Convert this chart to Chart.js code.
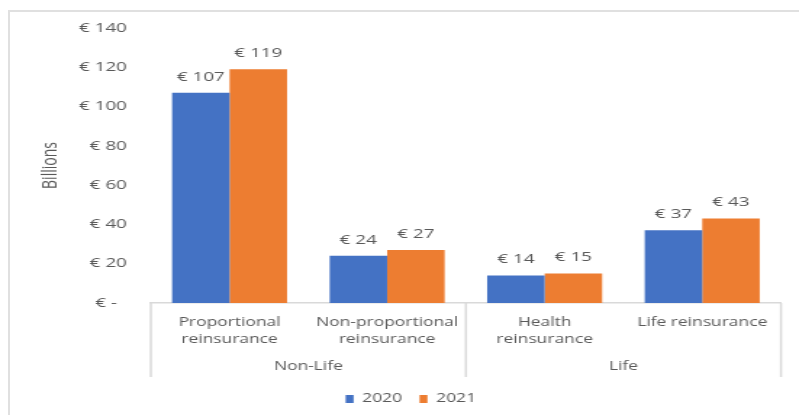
<!DOCTYPE html>
<html>
<head>
<meta charset="utf-8">
<script src="https://cdn.jsdelivr.net/npm/chart.js@4/dist/chart.umd.min.js"></script>
<style>
  html, body { margin: 0; padding: 0; background: #ffffff; overflow: hidden; width: 799px; height: 415px; }
  #frame { position: absolute; left: 8px; top: 10px; width: 1000px; height: 1000px;
           border-left: 2px solid #e0e0e0; border-top: 2px solid #e0e0e0; box-sizing: border-box; }
  #c { position: absolute; left: 0; top: 0; transform-origin: 0 0; }
</style>
</head>
<body>
<div id="frame"></div>
<canvas id="c"></canvas>
<script>
// ---- data ----
const categories = [['Proportional', 'reinsurance'], ['Non-proportional', 'reinsurance'], ['Health', 'reinsurance'], ['Life reinsurance']];
const groups = ['Non-Life', 'Life'];
const seriesNames = ['2020', '2021'];
const values2020 = [107, 24, 14, 37];
const values2021 = [119, 27, 15, 43];
const yTickLabels = ['€ -  ', '€ 20', '€ 40', '€ 60', '€ 80', '€ 100', '€ 120', '€ 140'];
const axisTitle = 'Billions';

// ---- layout (reference image is stretched horizontally) ----
const S = 1.45;
const W = Math.round(799 / S);
const H = 415;
const cv = document.getElementById('c');
cv.width = W; cv.height = H;
cv.style.width = W + 'px'; cv.style.height = H + 'px';
cv.style.transform = 'scaleX(' + S + ')';

const TEXT = '#595959';
const LINE = '#d9d9d9';
const FONT = '"Open Sans", "DejaVu Sans", sans-serif';

const dataLabels = {
  id: 'dataLabels',
  afterDatasetsDraw(chart) {
    const ctx = chart.ctx;
    ctx.save();
    ctx.font = '13px ' + FONT;
    ctx.fillStyle = TEXT;
    ctx.textAlign = 'center';
    ctx.textBaseline = 'middle';
    chart.data.datasets.forEach((ds, i) => {
      const meta = chart.getDatasetMeta(i);
      meta.data.forEach((bar, j) => {
        ctx.fillText('€ ' + ds.data[j], bar.x, bar.y - 16);
      });
    });
    ctx.restore();
  }
};

const separators = {
  id: 'separators',
  afterDraw(chart) {
    const xs = chart.scales.x, x2 = chart.scales.x2;
    const ctx = chart.ctx;
    const mid = (xs.getPixelForValue(1) + xs.getPixelForValue(2)) / 2;
    ctx.save();
    ctx.strokeStyle = LINE;
    ctx.lineWidth = 1.5;
    [xs.left, mid, xs.right].forEach(px => {
      ctx.beginPath();
      ctx.moveTo(px, xs.top);
      ctx.lineTo(px, x2.bottom - 4);
      ctx.stroke();
    });
    ctx.restore();
  }
};

new Chart(cv, {
  type: 'bar',
  data: {
    labels: categories,
    datasets: [
      { label: seriesNames[0], data: values2020, backgroundColor: '#4472C4', categoryPercentage: 0.73, barPercentage: 1.0 },
      { label: seriesNames[1], data: values2021, backgroundColor: '#ED7D31', categoryPercentage: 0.73, barPercentage: 1.0 }
    ]
  },
  options: {
    responsive: false,
    animation: false,
    layout: { padding: { left: 28, right: 12.4, top: 28, bottom: 0 } },
    plugins: {
      legend: {
        position: 'bottom',
        labels: { color: TEXT, font: { family: FONT, size: 12 }, boxWidth: 5.5, boxHeight: 8, padding: 12 }
      },
      tooltip: { enabled: false }
    },
    scales: {
      x: {
        type: 'category',
        grid: { display: false, drawTicks: false },
        border: { display: true, color: LINE, width: 1.5 },
        ticks: { color: TEXT, font: { family: FONT, size: 12, lineHeight: 1.4 }, padding: 11, maxRotation: 0, autoSkip: false },
        afterFit: (scale) => { scale.height = 50; }
      },
      x2: {
        type: 'category',
        position: 'bottom',
        labels: groups,
        offset: true,
        grid: { display: false, drawTicks: false },
        border: { display: false },
        ticks: { color: TEXT, font: { family: FONT, size: 12, lineHeight: 1.4 }, padding: 5, maxRotation: 0, autoSkip: false },
        afterFit: (scale) => { scale.height = 28; }
      },
      y: {
        min: 0, max: 140,
        grid: { display: false, drawTicks: false },
        border: { display: false },
        ticks: { stepSize: 20, color: TEXT, font: { family: FONT, size: 13 }, padding: 16.5,
                 callback: (v, i) => yTickLabels[i] },
        title: { display: true, text: axisTitle, color: TEXT, font: { family: FONT, size: 14, lineHeight: 1 }, padding: { top: 0, bottom: 0 } },
        afterFit: (scale) => { scale.width = 76; }
      }
    }
  },
  plugins: [dataLabels, separators]
});
</script>
</body>
</html>
